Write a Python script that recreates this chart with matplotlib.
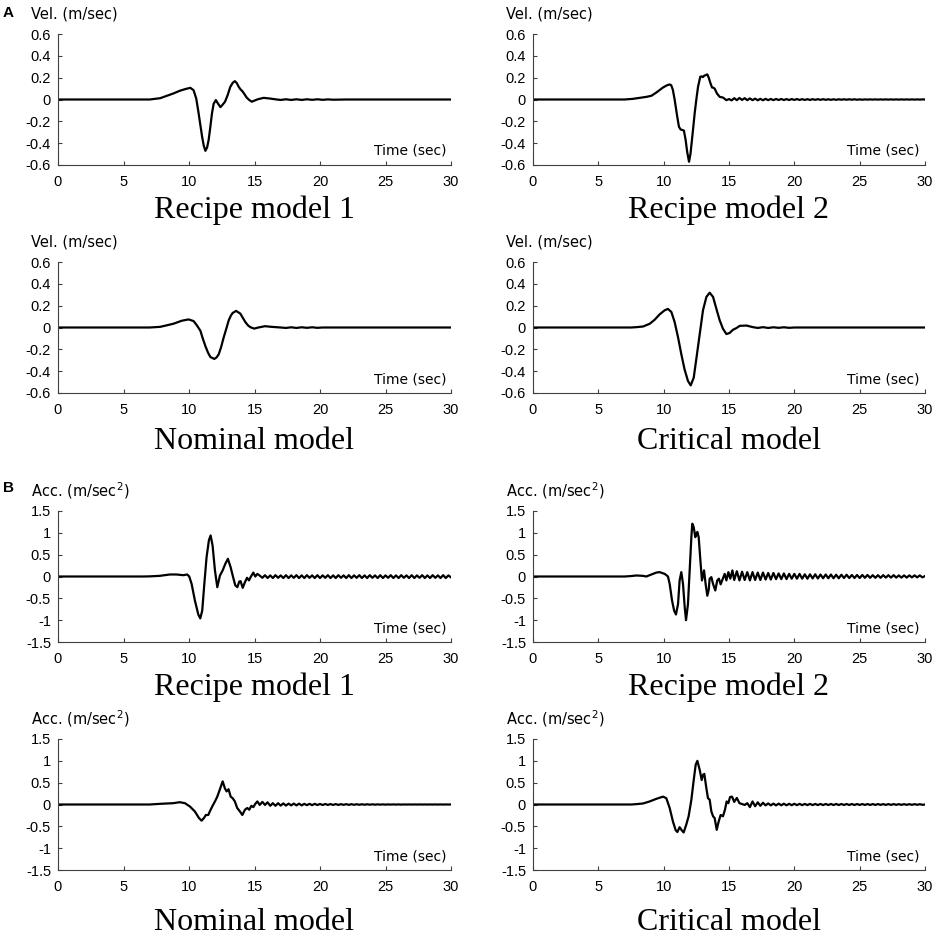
import matplotlib
matplotlib.use("Agg")
import matplotlib.pyplot as plt

plt.rcParams['axes.unicode_minus'] = False
plt.rcParams['font.family'] = ['DejaVu Sans']

# ---- data (time in sec) ----

# shared time grid for the long decaying tails
tail_t = [
    15.4, 15.6, 15.8, 16.0, 16.2, 16.4, 16.6, 16.8, 17.0, 17.2,
    17.4, 17.6, 17.8, 18.0, 18.2, 18.4, 18.6, 18.8, 19.0, 19.2,
    19.4, 19.6, 19.8, 20.0, 20.2, 20.4, 20.6, 20.8, 21.0, 21.2,
    21.4, 21.6, 21.8, 22.0, 22.2, 22.4, 22.6, 22.8, 23.0, 23.2,
    23.4, 23.6, 23.8, 24.0, 24.2, 24.4, 24.6, 24.8, 25.0, 25.2,
    25.4, 25.6, 25.8, 26.0, 26.2, 26.4, 26.6, 26.8, 27.0, 27.2,
    27.4, 27.6, 27.8, 28.0, 28.2, 28.4, 28.6, 28.8, 29.0, 29.2,
    29.4, 29.6, 29.8, 30.0]

# velocity, recipe model 1
vel_rm1_t = [
    0, 7.0, 7.8, 8.8, 9.3, 9.7, 10.1, 10.35, 10.55, 10.7,
    10.85, 11.0, 11.12, 11.25, 11.38, 11.5, 11.62, 11.75, 11.88, 12.05,
    12.2, 12.4, 12.55, 12.75, 12.95, 13.15, 13.35, 13.5, 13.65, 13.8,
    13.95, 14.05, 14.2, 14.4, 14.6, 14.8, 15.0, 15.2, 15.45, 15.7,
    16.1, 16.7, 17.0, 17.4, 17.8, 18.2, 18.6, 19.0, 19.4, 19.8,
    20.2, 20.6, 21.0, 22.0, 30.0]
vel_rm1 = [
    0, 0, 0.012, 0.055, 0.08, 0.095, 0.107, 0.085, 0.01, -0.1,
    -0.22, -0.34, -0.42, -0.47, -0.44, -0.37, -0.26, -0.13, -0.04, -0.005,
    -0.035, -0.07, -0.05, -0.02, 0.04, 0.115, 0.155, 0.168, 0.15, 0.115,
    0.09, 0.08, 0.055, 0.018, -0.005, -0.02, -0.01, 0.0, 0.008, 0.015,
    0.01, 0.0, -0.004, 0.002, -0.004, 0.002, -0.004, 0.002, -0.003, 0.002,
    -0.003, 0.001, -0.002, 0.0, 0.0]

# velocity, recipe model 2
vel_rm2_t = [
    0, 7.0, 7.65, 8.16, 8.67, 9.06, 9.44, 9.95, 10.25, 10.46,
    10.58, 10.7, 10.84, 11.02, 11.17, 11.3, 11.45, 11.55, 11.68, 11.8,
    11.94, 12.05, 12.2, 12.37, 12.5, 12.63, 12.8, 12.9, 13.0, 13.1,
    13.19, 13.34, 13.45, 13.55, 13.7, 13.8, 13.9, 14.08, 14.29, 14.54,
    14.8, 15.0, 15.2]
vel_rm2 = [
    0, 0, 0.006, 0.015, 0.024, 0.034, 0.064, 0.11, 0.13, 0.138,
    0.13, 0.09, 0.0, -0.144, -0.25, -0.275, -0.28, -0.285, -0.37, -0.48,
    -0.57, -0.5, -0.33, -0.13, 0.0, 0.116, 0.208, 0.212, 0.205, 0.218,
    0.222, 0.23, 0.2, 0.16, 0.11, 0.108, 0.1, 0.055, 0.024, 0.018,
    -0.006, 0.004, -0.008]
vel_rm2_tail = [
    0.012, -0.006, 0.014, -0.004, 0.012, -0.006, 0.010, -0.006, 0.008, -0.007,
    0.006, -0.007, 0.006, -0.006, 0.005, -0.006, 0.005, -0.005, 0.005, -0.005,
    0.004, -0.005, 0.004, -0.004, 0.004, -0.004, 0.003, -0.004, 0.003, -0.004,
    0.003, -0.003, 0.003, -0.003, 0.003, -0.003, 0.002, -0.003, 0.002, -0.003,
    0.002, -0.002, 0.002, -0.002, 0.002, -0.002, 0.002, -0.002, 0.001, -0.002,
    0.001, -0.001, 0.001, -0.001, 0.001, -0.001, 0.001, -0.001, 0.001, -0.001,
    0.001, -0.001, 0.001, -0.001, 0.001, -0.001, 0.001, -0.001, 0.001, -0.001,
    0.001, -0.001, 0.001, 0.0]

# velocity, nominal model
vel_nom_t = [
    0, 7.0, 7.8, 8.8, 9.45, 9.97, 10.35, 10.6, 10.87, 11.05,
    11.25, 11.45, 11.63, 11.93, 12.1, 12.27, 12.45, 12.65, 12.85, 13.03,
    13.2, 13.33, 13.6, 13.92, 14.1, 14.3, 14.5, 14.68, 14.98, 15.3,
    15.8, 16.3, 17.0, 17.4, 17.8, 18.2, 18.6, 19.0, 19.4, 19.8,
    20.2, 21.0, 22.0, 30.0]
vel_nom = [
    0, 0, 0.006, 0.034, 0.062, 0.074, 0.059, 0.02, -0.03, -0.1,
    -0.17, -0.23, -0.27, -0.288, -0.275, -0.245, -0.18, -0.09, -0.01, 0.065,
    0.11, 0.133, 0.152, 0.127, 0.09, 0.05, 0.02, 0.003, -0.01, 0.0,
    0.012, 0.006, 0.0, -0.004, 0.002, -0.004, 0.002, -0.003, 0.002, -0.003,
    0.0, 0.0, 0.0, 0.0]

# velocity, critical model
vel_crit_t = [
    0, 7.5, 7.9, 8.42, 8.93, 9.31, 9.69, 10.08, 10.33, 10.59,
    10.84, 11.1, 11.35, 11.6, 11.86, 12.07, 12.3, 12.55, 12.76, 13.01,
    13.27, 13.52, 13.78, 14.03, 14.29, 14.54, 14.8, 15.05, 15.31, 15.56,
    15.82, 16.33, 16.84, 17.2, 17.6, 18.0, 18.4, 18.8, 19.2, 19.6,
    20.0, 21.0, 30.0]
vel_crit = [
    0, 0, 0.003, 0.009, 0.034, 0.071, 0.12, 0.158, 0.17, 0.142,
    0.05, -0.09, -0.244, -0.384, -0.49, -0.53, -0.46, -0.244, -0.06, 0.158,
    0.28, 0.319, 0.28, 0.173, 0.065, -0.012, -0.06, -0.05, -0.02, -0.006,
    0.015, 0.018, 0.003, -0.004, 0.003, -0.004, 0.002, -0.003, 0.002, -0.003,
    0.0, 0.0, 0.0]

# acceleration, recipe model 1
acc_rm1_t = [
    0, 6.5, 7.0, 7.77, 8.54, 9.05, 9.56, 9.86, 10.02, 10.2,
    10.45, 10.71, 10.86, 11.01, 11.17, 11.34, 11.52, 11.65, 11.8, 11.98,
    12.16, 12.36, 12.57, 12.77, 12.97, 13.18, 13.38, 13.53, 13.69, 13.84,
    13.94, 14.1, 14.27, 14.43, 14.58, 14.73, 14.91, 15.06, 15.22]
acc_rm1 = [
    0, 0, 0.003, 0.015, 0.046, 0.046, 0.03, 0.046, 0.0, -0.17,
    -0.55, -0.87, -0.96, -0.78, -0.17, 0.44, 0.83, 0.94, 0.71, 0.14,
    -0.245, 0.02, 0.14, 0.29, 0.405, 0.21, -0.03, -0.2, -0.245, -0.115,
    -0.107, -0.26, -0.13, -0.03, -0.09, 0.0, 0.09, 0.0, 0.06]
acc_rm1_tail = [
    0.02, -0.03, 0.03, -0.035, 0.025, -0.035, 0.03, -0.03, 0.025, -0.035,
    0.03, -0.035, 0.025, -0.03, 0.03, -0.035, 0.025, -0.035, 0.03, -0.03,
    0.025, -0.035, 0.03, -0.035, 0.025, -0.03, 0.03, -0.035, 0.025, -0.035,
    0.03, -0.03, 0.025, -0.035, 0.03, -0.035, 0.025, -0.03, 0.03, -0.035,
    0.025, -0.035, 0.03, -0.03, 0.025, -0.035, 0.03, -0.035, 0.025, -0.03,
    0.03, -0.035, 0.025, -0.035, 0.03, -0.03, 0.025, -0.035, 0.03, -0.035,
    0.025, -0.03, 0.03, -0.035, 0.025, -0.035, 0.03, -0.03, 0.025, -0.035,
    0.03, -0.035, 0.025, -0.02]

# acceleration, recipe model 2
acc_rm2_t = [
    0, 7.0, 7.5, 7.9, 8.42, 8.67, 9.06, 9.44, 9.69, 10.08,
    10.33, 10.46, 10.64, 10.8, 10.94, 11.1, 11.22, 11.35, 11.48, 11.61,
    11.71, 11.86, 11.99, 12.12, 12.19, 12.3, 12.42, 12.5, 12.58, 12.68,
    12.81, 12.93, 13.09, 13.21, 13.34, 13.45, 13.52, 13.65, 13.78, 13.95,
    14.1, 14.23, 14.36, 14.54, 14.67, 14.8, 14.95, 15.1, 15.26]
acc_rm2 = [
    0, 0, 0.01, 0.023, 0.015, 0.0, 0.046, 0.09, 0.1, 0.06,
    0.0, -0.17, -0.55, -0.78, -0.87, -0.63, -0.09, 0.1, -0.17, -0.7,
    -1.0, -0.63, 0.14, 0.9, 1.21, 1.13, 0.9, 0.98, 1.02, 0.9,
    0.37, -0.09, 0.14, -0.17, -0.44, -0.3, -0.05, -0.015, -0.17, -0.32,
    -0.09, -0.05, -0.18, -0.04, 0.06, -0.09, 0.1, -0.05, 0.14]
acc_rm2_tail = [
    -0.08, 0.12, -0.09, 0.11, -0.08, 0.1, -0.09, 0.1, -0.08, 0.09,
    -0.08, 0.09, -0.07, 0.08, -0.07, 0.08, -0.06, 0.07, -0.06, 0.07,
    -0.06, 0.06, -0.05, 0.06, -0.05, 0.06, -0.05, 0.05, -0.05, 0.05,
    -0.045, 0.05, -0.045, 0.045, -0.04, 0.045, -0.04, 0.045, -0.04, 0.04,
    -0.04, 0.04, -0.035, 0.04, -0.035, 0.035, -0.035, 0.035, -0.035, 0.035,
    -0.03, 0.035, -0.03, 0.03, -0.03, 0.03, -0.03, 0.03, -0.025, 0.03,
    -0.025, 0.03, -0.025, 0.025, -0.025, 0.025, -0.025, 0.025, -0.02, 0.025,
    -0.02, 0.025, -0.02, 0.01]

# acceleration, nominal model
acc_nom_t = [
    0, 7.0, 7.77, 8.79, 9.3, 9.69, 10.07, 10.45, 10.76, 10.96,
    11.14, 11.29, 11.47, 11.65, 11.8, 11.98, 12.16, 12.36, 12.57, 12.74,
    12.87, 13.02, 13.18, 13.33, 13.5, 13.68, 13.89, 14.07, 14.27, 14.45,
    14.6, 14.76, 14.91, 15.06, 15.22]
acc_nom = [
    0, 0, 0.015, 0.03, 0.053, 0.03, -0.046, -0.16, -0.31, -0.37,
    -0.31, -0.24, -0.24, -0.12, -0.03, 0.07, 0.18, 0.35, 0.53, 0.37,
    0.3, 0.35, 0.18, 0.145, 0.07, -0.08, -0.16, -0.24, -0.12, -0.08,
    -0.12, -0.03, -0.06, 0.015, 0.07]
acc_nom_tail = [
    -0.01, 0.06, -0.01, 0.05, -0.03, 0.03, -0.03, 0.03, -0.025, 0.025,
    -0.025, 0.02, -0.02, 0.02, -0.02, 0.02, -0.02, 0.015, -0.015, 0.015,
    -0.015, 0.015, -0.012, 0.012, -0.012, 0.012, -0.01, 0.01, -0.01, 0.01,
    -0.01, 0.008, -0.008, 0.008, -0.008, 0.007, -0.007, 0.006, -0.006, 0.005,
    -0.005, 0.005, -0.004, 0.004, -0.004, 0.003, -0.003, 0.003, -0.003, 0.002,
    -0.002, 0.002, -0.002, 0.002, -0.002, 0.001, -0.001, 0.001, -0.001, 0.001,
    -0.001, 0.001, -0.001, 0.001, -0.001, 0.001, -0.001, 0.001, -0.001, 0.001,
    -0.001, 0.001, 0.0, 0.0]

# acceleration, critical model
acc_crit_t = [
    0, 7.5, 7.9, 8.42, 8.93, 9.44, 9.95, 10.2, 10.46, 10.71,
    10.92, 11.05, 11.22, 11.38, 11.53, 11.73, 11.91, 12.12, 12.3, 12.45,
    12.58, 12.76, 12.91, 13.01, 13.11, 13.27, 13.39, 13.52, 13.65, 13.78,
    13.9, 14.06, 14.21, 14.36, 14.54, 14.69, 14.82, 14.95, 15.08, 15.23]
acc_crit = [
    0, 0, 0.008, 0.023, 0.07, 0.13, 0.18, 0.145, -0.08, -0.39,
    -0.59, -0.63, -0.52, -0.59, -0.64, -0.46, -0.27, 0.11, 0.56, 0.91,
    1.0, 0.79, 0.56, 0.68, 0.7, 0.37, 0.145, 0.11, -0.16, -0.27,
    -0.31, -0.58, -0.39, -0.24, -0.27, -0.12, 0.07, 0.03, 0.17, 0.18]
acc_crit_tail = [
    0.06, 0.15, 0.03, 0.01, -0.01, 0.03, -0.06, 0.07, -0.04, 0.05,
    -0.03, 0.04, -0.02, 0.025, -0.02, 0.02, -0.02, 0.02, -0.018, 0.018,
    -0.018, 0.016, -0.016, 0.016, -0.015, 0.015, -0.015, 0.014, -0.014, 0.014,
    -0.014, 0.013, -0.013, 0.013, -0.013, 0.012, -0.012, 0.012, -0.012, 0.012,
    -0.012, 0.011, -0.011, 0.011, -0.011, 0.011, -0.011, 0.01, -0.01, 0.01,
    -0.01, 0.01, -0.01, 0.01, -0.01, 0.01, -0.009, 0.009, -0.009, 0.009,
    -0.009, 0.009, -0.008, 0.008, -0.008, 0.008, -0.008, 0.008, -0.008, 0.008,
    -0.007, 0.007, -0.007, 0.0]

x_ticks = [0, 5, 10, 15, 20, 25, 30]
vel_ticks = [-0.6, -0.4, -0.2, 0, 0.2, 0.4, 0.6]
acc_ticks = [-1.5, -1, -0.5, 0, 0.5, 1, 1.5]

# ---- layout in pixels of a 937x935 canvas ----
W, H = 937, 935
col_left = [58, 533]
col_width = [393, 392]
row_top = [34, 262, 511, 739]
row_h = 131

fig = plt.figure(figsize=(W / 100, H / 100), dpi=100)


def fmt(v):
    s = '%g' % v
    return '0' if s == '-0' else s


def panel(col, row, t, v, yticks, ylabel, title, title_off=38):
    left = col_left[col] / W
    bottom = 1 - (row_top[row] + row_h) / H
    ax = fig.add_axes([left, bottom, col_width[col] / W, row_h / H])
    ax.plot(t, v, color='black', lw=1.6)
    ax.set_xlim(0, 30)
    ax.set_ylim(yticks[0], yticks[-1])
    ax.set_xticks(x_ticks, [fmt(x) for x in x_ticks],
                  fontfamily='Liberation Sans', fontsize=10.5)
    ax.set_yticks(yticks, [fmt(y) for y in yticks],
                  fontfamily='Liberation Sans', fontsize=10.5)
    ax.tick_params(direction='in', length=3, width=0.8, color='#404040')
    ax.tick_params(axis='y', pad=5)
    ax.tick_params(axis='x', pad=7)
    for s in ['top', 'right']:
        ax.spines[s].set_visible(False)
    for s in ['left', 'bottom']:
        ax.spines[s].set_linewidth(0.8)
        ax.spines[s].set_color('#404040')
    ax.text(1 - 5 / col_width[col], 14 / row_h, 'Time (sec)',
            transform=ax.transAxes, ha='right', va='center', fontsize=10)
    ax.annotate(ylabel, xy=(0, 1), xycoords='axes fraction',
                xytext=(-19.5, 14.5), textcoords='offset points',
                ha='left', va='center', fontsize=10.5)
    ax.annotate(title, xy=(0.5, 0), xycoords='axes fraction',
                xytext=(0, -title_off), textcoords='offset points',
                ha='center', va='baseline', fontsize=23,
                fontfamily='Liberation Serif')
    return ax


vel_label = 'Vel. (m/sec)'
acc_label = 'Acc. (m/sec$^{2}$)'

panel(0, 0, vel_rm1_t, vel_rm1, vel_ticks, vel_label, 'Recipe model 1')
panel(1, 0, vel_rm2_t + tail_t, vel_rm2 + vel_rm2_tail, vel_ticks, vel_label,
      'Recipe model 2')
panel(0, 1, vel_nom_t, vel_nom, vel_ticks, vel_label, 'Nominal model', 40)
panel(1, 1, vel_crit_t, vel_crit, vel_ticks, vel_label, 'Critical model', 40)

panel(0, 2, acc_rm1_t + tail_t, acc_rm1 + acc_rm1_tail, acc_ticks, acc_label,
      'Recipe model 1')
panel(1, 2, acc_rm2_t + tail_t, acc_rm2 + acc_rm2_tail, acc_ticks, acc_label,
      'Recipe model 2')
panel(0, 3, acc_nom_t + tail_t, acc_nom + acc_nom_tail, acc_ticks, acc_label,
      'Nominal model', 43)
panel(1, 3, acc_crit_t + tail_t, acc_crit + acc_crit_tail, acc_ticks,
      acc_label, 'Critical model', 43)

fig.text(3 / W, 1 - 13 / H, 'A', fontsize=11, fontweight='bold',
         fontfamily='Liberation Sans', va='center', ha='left')
fig.text(3 / W, 1 - 488 / H, 'B', fontsize=11, fontweight='bold',
         fontfamily='Liberation Sans', va='center', ha='left')

fig.savefig('out.png', dpi=100)
